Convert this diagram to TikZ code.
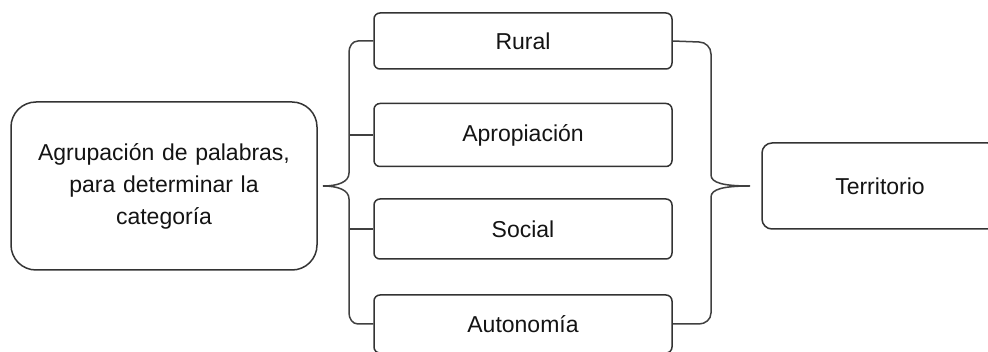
\documentclass[tikz,border=0pt]{standalone}
\usepackage{fontspec}
\setmainfont{Liberation Sans}
\begin{document}
\begin{tikzpicture}[x=1pt,y=-1pt,
  every node/.style={font=\fontsize{23}{32}\selectfont, text=black!92},
  box/.style={draw=black!80, line width=1.5pt, rounded corners=#1, inner sep=0pt, align=center},
  box/.default=6pt,
  brace/.style={draw=black!75, line width=1.5pt}]
\clip (0,0) rectangle (988,352);
\fill[white] (0,0) rectangle (988,352);
% left box
\node[box=25pt, minimum width=306pt, minimum height=168pt, text width=290pt] (src) at (164,186)
  {Agrupación de palabras,\\para determinar la\\categoría};
% middle boxes
\node[box, minimum width=298pt, minimum height=56pt] (rural) at (523,41) {Rural};
\node[box, minimum width=298pt, minimum height=63pt] (apro) at (523,135) {Apropiación};
\node[box, minimum width=298pt, minimum height=60pt] (soc) at (523,229) {Social};
\node[box, minimum width=298pt, minimum height=58pt] (auto) at (523,324) {Autonomía};
% right box
\node[box=10pt, minimum width=236pt, minimum height=86pt] (terr) at (880,186) {Territorio};
% brace tips
\coordinate (ltip) at (323,186);
\coordinate (rtip) at (750,186);
% left brace
\draw[brace] (rural.west) -- (358,41) to[out=180,in=90] (349,52) -- (349,173)
  .. controls (349,182) and (338,186) .. (ltip)
  .. controls (338,186) and (349,190) .. (349,199) -- (349,313)
  to[out=-90,in=180] (358,324) -- (auto.west);
\draw[brace] (349,135) -- (apro.west);
\draw[brace] (349,229) -- (soc.west);
% right brace
\draw[brace] (rural.east) -- (699,42) to[out=0,in=90] (711,54) -- (711,175)
  .. controls (711,183) and (724,186) .. (rtip)
  .. controls (724,186) and (711,189) .. (711,197) -- (711,313)
  to[out=-90,in=0] (699,324) -- (auto.east);
\end{tikzpicture}
\end{document}
